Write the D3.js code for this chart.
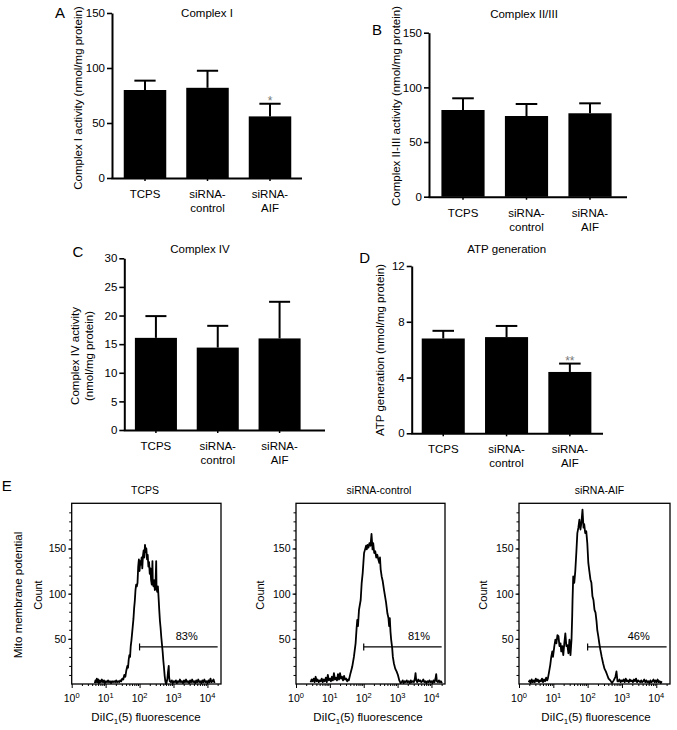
<!DOCTYPE html>
<html><head><meta charset="utf-8">
<script src="https://cdn.jsdelivr.net/npm/d3@7"></script>
<style>
body{margin:0;background:#fff}
text{font-family:"Liberation Sans",Arial,Helvetica,sans-serif;fill:#000}
</style>
</head><body>
<svg id="c" width="677" height="730"></svg>
<script>
// ---------- DATA ----------
const groups = ["TCPS", "siRNA-control", "siRNA-AIF"];
const groupLabels = [["TCPS"], ["siRNA-", "control"], ["siRNA-", "AIF"]];

const complexIMean = [80, 82, 56];
const complexIErr = [8.5, 15.5, 11.5];
const complexISig = ["", "", "*"];
const complexITicks = [0, 50, 100, 150];

const complexIIIIIMean = [79.3, 73.8, 76.3];
const complexIIIIIErr = [10.7, 11, 9.1];
const complexIIIIISig = ["", "", ""];
const complexIIIIITicks = [0, 50, 100, 150];

const complexIVMean = [16.1, 14.4, 16.0];
const complexIVErr = [3.8, 3.8, 6.4];
const complexIVSig = ["", "", ""];
const complexIVTicks = [0, 5, 10, 15, 20, 25, 30];

const atpMean = [6.8, 6.9, 4.4];
const atpErr = [0.55, 0.8, 0.6];
const atpSig = ["", "", "**"];
const atpTicks = [0, 4, 8, 12];

// flow cytometry histograms: [log10 fluorescence, count]
const histTCPS = [[0.68,1],[0.70,4],[0.72,2],[0.74,6],[0.76,2],[0.78,5],[0.80,1],[0.83,4],[0.86,2],[0.89,5],[0.92,2],[0.95,4],[0.98,1],[1.01,3],[1.04,2],[1.07,4],[1.10,2],[1.13,3],[1.16,1],[1.19,3],[1.22,2],[1.25,3],[1.28,2],[1.31,4],[1.34,2],[1.37,3],[1.40,2],[1.43,4],[1.46,3],[1.49,6],[1.52,5],[1.55,10],[1.58,8],[1.61,15],[1.64,20],[1.66,18],[1.68,27],[1.70,32],[1.72,30],[1.74,42],[1.76,48],[1.78,56],[1.80,64],[1.82,72],[1.84,84],[1.86,92],[1.88,104],[1.90,110],[1.92,108],[1.94,112],[1.96,130],[1.98,138],[2.00,125],[2.02,136],[2.04,132],[2.06,140],[2.08,128],[2.10,142],[2.12,148],[2.14,140],[2.16,154],[2.18,146],[2.20,150],[2.22,138],[2.24,143],[2.26,130],[2.28,135],[2.30,122],[2.32,128],[2.34,115],[2.36,110],[2.38,136],[2.39,112],[2.41,108],[2.43,115],[2.45,104],[2.47,110],[2.49,136],[2.50,106],[2.52,102],[2.54,108],[2.56,96],[2.58,82],[2.60,70],[2.62,62],[2.64,52],[2.66,44],[2.68,36],[2.70,26],[2.72,18],[2.74,9],[2.76,3],[2.78,0],[2.80,2],[2.82,6],[2.84,14],[2.86,20],[2.87,8],[2.89,3],[2.92,2],[2.95,4],[2.98,1],[3.01,3],[3.04,2],[3.07,4],[3.10,1],[3.13,3],[3.16,2],[3.19,5],[3.22,2],[3.25,3],[3.28,1],[3.31,4],[3.34,2],[3.37,5],[3.40,2],[3.43,3],[3.46,1],[3.49,4],[3.52,2],[3.55,5],[3.58,2],[3.61,3],[3.64,1],[3.67,4],[3.70,2],[3.73,5],[3.76,2],[3.79,3],[3.82,1],[3.85,4],[3.88,2],[3.91,5],[3.94,2],[3.97,3],[4.00,1],[4.03,4],[4.06,2],[4.09,6],[4.12,2],[4.15,3],[4.18,5],[4.21,1]];

const histControl = [[0.43,2],[0.46,5],[0.49,3],[0.52,6],[0.55,2],[0.58,8],[0.61,3],[0.64,5],[0.67,2],[0.70,4],[0.73,3],[0.76,6],[0.79,2],[0.82,5],[0.85,3],[0.88,7],[0.91,2],[0.94,10],[0.97,4],[1.00,6],[1.03,3],[1.06,8],[1.09,4],[1.12,12],[1.15,5],[1.18,7],[1.21,4],[1.24,11],[1.27,5],[1.30,12],[1.33,6],[1.36,8],[1.39,4],[1.42,9],[1.45,5],[1.48,6],[1.51,3],[1.54,5],[1.56,4],[1.61,12],[1.66,19],[1.71,30],[1.76,45],[1.79,62],[1.81,71],[1.83,64],[1.86,82],[1.91,93],[1.94,112],[1.97,123],[1.99,134],[2.01,145],[2.04,149],[2.07,153],[2.09,149],[2.11,154],[2.14,151],[2.17,156],[2.20,153],[2.23,166],[2.26,149],[2.28,156],[2.31,145],[2.34,147],[2.37,140],[2.40,143],[2.43,138],[2.46,134],[2.48,140],[2.50,127],[2.53,119],[2.56,114],[2.60,104],[2.63,97],[2.66,90],[2.70,78],[2.73,73],[2.75,64],[2.77,73],[2.79,58],[2.81,49],[2.84,40],[2.86,30],[2.89,23],[2.93,17],[2.97,14],[3.01,10],[3.05,4],[3.09,1],[3.12,2],[3.15,4],[3.18,1],[3.21,3],[3.24,2],[3.27,4],[3.30,2],[3.33,3],[3.36,1],[3.39,4],[3.42,2],[3.45,3],[3.48,2],[3.51,6],[3.53,12],[3.55,4],[3.58,2],[3.61,5],[3.64,3],[3.67,4],[3.70,2],[3.73,3],[3.76,5],[3.79,2],[3.82,3],[3.85,1],[3.88,3],[3.91,2],[3.94,4],[3.97,2],[4.00,3],[4.03,1],[4.06,4],[4.09,2],[4.12,6],[4.14,11],[4.16,3],[4.19,2],[4.22,4],[4.25,2],[4.28,3],[4.31,1]];

const histAIF = [[0.28,2],[0.31,4],[0.34,1],[0.37,5],[0.40,2],[0.43,4],[0.46,2],[0.49,6],[0.52,3],[0.55,5],[0.58,2],[0.61,4],[0.64,3],[0.67,6],[0.70,2],[0.73,5],[0.76,3],[0.79,7],[0.82,4],[0.84,6],[0.87,12],[0.91,21],[0.94,30],[0.97,36],[0.99,30],[1.03,42],[1.06,49],[1.09,45],[1.12,54],[1.15,53],[1.18,42],[1.21,45],[1.23,36],[1.26,42],[1.29,32],[1.32,45],[1.35,56],[1.38,42],[1.41,43],[1.44,34],[1.47,49],[1.50,32],[1.53,49],[1.55,75],[1.56,93],[1.58,119],[1.61,112],[1.64,125],[1.67,145],[1.70,167],[1.73,173],[1.76,182],[1.79,171],[1.82,179],[1.85,193],[1.88,173],[1.90,177],[1.93,167],[1.96,169],[1.99,156],[2.02,134],[2.05,125],[2.08,116],[2.11,112],[2.14,97],[2.17,93],[2.20,82],[2.23,79],[2.26,69],[2.28,60],[2.31,53],[2.34,45],[2.37,38],[2.41,30],[2.45,23],[2.49,17],[2.53,14],[2.57,10],[2.61,6],[2.66,4],[2.71,1],[2.76,4],[2.81,8],[2.84,14],[2.87,3],[2.90,3],[2.93,5],[2.96,2],[2.99,4],[3.02,3],[3.05,5],[3.08,2],[3.11,6],[3.14,3],[3.17,4],[3.20,2],[3.23,5],[3.26,3],[3.29,4],[3.32,2],[3.35,5],[3.38,3],[3.41,6],[3.44,2],[3.47,4],[3.50,3],[3.53,2],[3.56,4],[3.59,2],[3.62,3],[3.65,5],[3.68,2],[3.71,4],[3.74,2],[3.77,3],[3.80,1],[3.83,4],[3.86,2],[3.89,3],[3.92,5],[3.95,2],[3.98,4],[4.01,2],[4.04,5],[4.07,2],[4.10,3],[4.13,1],[4.16,3]];

const histTitles = ["TCPS", "siRNA-control", "siRNA-AIF"];
const gatePercents = ["83%", "81%", "46%"];
const gateRange = [100, 20000];
const gateCount = 41;
const histYTicks = [50, 100, 150];
const histXDecades = [0, 1, 2, 3, 4];

// ---------- LAYOUT ----------
const svg = d3.select("#c");

const barLayouts = [
  {x0:112, xEnd:302, y0:178, y1:13, band:[113.75,301.25], max:150, title:"Complex I", tx:207, ty:17,
   letter:"A", lx:60, ly:17.5, ylab:["Complex I activity (nmol/mg protein)"], ylx:[77.5], yly:98},
  {x0:429, xEnd:627, y0:196.7, y1:32.7, band:[431.25,621.75], max:150, title:"Complex II/III", tx:524, ty:17.5,
   letter:"B", lx:377, ly:34.5, ylab:["Complex II-III activity (nmol/mg protein)"], ylx:[395.5], yly:106},
  {x0:124.3, xEnd:325, y0:430, y1:258.3, band:[125,310.5], max:30, title:"Complex IV", tx:200, ty:252.5,
   letter:"C", lx:78, ly:257, ylab:["Complex IV activity","(nmol/mg protein)"], ylx:[75,89], yly:356},
  {x0:411.7, xEnd:603, y0:433.3, y1:266, band:[411.6,601.5], max:12, title:"ATP generation", tx:506.7, ty:252.5,
   letter:"D", lx:364.7, ly:262.5, ylab:["ATP generation (nmol/mg protein)"], ylx:[380], yly:350}
];

function barPanel(L, means, errs, sig, ticks) {
  const g = svg.append("g");
  const x = d3.scaleBand().domain(groups).range(L.band).paddingInner(0.32).paddingOuter(0.16);
  const y = d3.scaleLinear().domain([0, L.max]).range([L.y0, L.y1]);
  const data = groups.map((k, i) => ({k, m: means[i], e: errs[i], s: sig[i], lab: groupLabels[i]}));
  const bw = x.bandwidth();
  const cx = d => x(d.k) + bw / 2;

  g.selectAll("rect.bar").data(data).join("rect").attr("class","bar")
    .attr("x", d => x(d.k)).attr("width", bw)
    .attr("y", d => y(d.m)).attr("height", d => y(0) - y(d.m)).attr("fill", "#000");
  g.selectAll("line.err").data(data).join("line").attr("class","err")
    .attr("x1", cx).attr("x2", cx).attr("y1", d => y(d.m)).attr("y2", d => y(d.m + d.e))
    .attr("stroke", "#000").attr("stroke-width", 2);
  g.selectAll("line.cap").data(data).join("line").attr("class","cap")
    .attr("x1", d => cx(d) - bw / 4).attr("x2", d => cx(d) + bw / 4)
    .attr("y1", d => y(d.m + d.e)).attr("y2", d => y(d.m + d.e))
    .attr("stroke", "#000").attr("stroke-width", 2);
  g.selectAll("text.sig").data(data.filter(d => d.s)).join("text").attr("class","sig")
    .attr("x", cx).attr("y", d => y(d.m + d.e) + 1.5).attr("text-anchor", "middle")
    .style("font-size", "12px").style("fill", "#777").text(d => d.s);

  const ya = g.append("g").attr("transform", `translate(${L.x0},0)`)
    .call(d3.axisLeft(y).tickValues(ticks).tickSize(5).tickPadding(2).tickSizeOuter(0));
  ya.select(".domain").attr("stroke-width", 2);
  ya.selectAll(".tick line").attr("stroke-width", 1.6);
  ya.selectAll(".tick text").style("font-size", "11.5px");

  const xa = g.append("g").attr("transform", `translate(0,${L.y0})`)
    .call(d3.axisBottom(x).tickSize(3).tickFormat(""));
  xa.select(".domain").remove();
  xa.selectAll(".tick line").attr("stroke-width", 1.5);
  g.append("line").attr("x1", L.x0 - 0.5).attr("x2", L.xEnd).attr("y1", L.y0 + 0.5).attr("y2", L.y0 + 0.5)
    .attr("stroke", "#000").attr("stroke-width", 2);

  const cl = g.selectAll("text.cat").data(data).join("text").attr("class","cat")
    .attr("text-anchor", "middle").style("font-size", "11.5px");
  cl.each(function(d) {
    const t = d3.select(this);
    d.lab.forEach((s, j) => t.append("tspan").attr("x", cx(d)).attr("y", L.y0 + 20 + j * 14).text(s));
  });

  g.append("text").attr("x", L.tx).attr("y", L.ty).attr("text-anchor", "middle")
    .style("font-size", "11.5px").text(L.title);
  g.append("text").attr("x", L.lx).attr("y", L.ly).attr("text-anchor", "middle")
    .style("font-size", "15px").text(L.letter);
  L.ylab.forEach((s, j) => {
    g.append("text").attr("transform", `translate(${L.ylx[j]},${L.yly}) rotate(-90)`)
      .attr("dy", "0.35em").attr("text-anchor", "middle").style("font-size", "11.5px").text(s);
  });
}

barPanel(barLayouts[0], complexIMean, complexIErr, complexISig, complexITicks);
barPanel(barLayouts[1], complexIIIIIMean, complexIIIIIErr, complexIIIIISig, complexIIIIITicks);
barPanel(barLayouts[2], complexIVMean, complexIVErr, complexIVSig, complexIVTicks);
barPanel(barLayouts[3], atpMean, atpErr, atpSig, atpTicks);

// ---------- HISTOGRAMS ----------
const histLayouts = [
  {box:[71.7,221], top:503.3, bottom:684, tx:145, ylab:["Mito membrane potential","Count"], ylx:[18,38.3], px:186.7, xlx:146},
  {box:[296,445], top:503.3, bottom:684, tx:379, ylab:["Count"], ylx:[260], px:419, xlx:368},
  {box:[519,670], top:503.3, bottom:684, tx:599.5, ylab:["Count"], ylx:[483.3], px:638.7, xlx:596}
];
const histData = [histTCPS, histControl, histAIF];

svg.append("text").attr("x", 6.7).attr("y", 490.7).attr("text-anchor", "middle")
  .style("font-size", "15px").text("E");

histLayouts.forEach((L, i) => {
  const g = svg.append("g");
  const x = d3.scaleLog().domain([1, Math.pow(10, 4.4)]).range(L.box);
  const y = d3.scaleLinear().domain([0, 200]).range([L.bottom, L.top]);

  const minorY = d3.range(10, 200, 10);
  const ym = g.append("g").attr("transform", `translate(${L.box[0]},0)`)
    .call(d3.axisLeft(y).tickValues(minorY).tickSize(2.5).tickFormat(""));
  ym.select(".domain").remove();
  const yM = g.append("g").attr("transform", `translate(${L.box[0]},0)`)
    .call(d3.axisLeft(y).tickValues(histYTicks).tickSize(3.5).tickPadding(2));
  yM.select(".domain").remove();
  yM.selectAll(".tick text").style("font-size", "10.5px");

  const minorX = [];
  for (let dcd = 0; dcd < 5; dcd++) for (let m = 2; m <= 9; m++) {
    const v = m * Math.pow(10, dcd);
    if (v < Math.pow(10, 4.4)) minorX.push(v);
  }
  const xm = g.append("g").attr("transform", `translate(0,${L.bottom})`)
    .call(d3.axisBottom(x).tickValues(minorX).tickSize(2).tickFormat(""));
  xm.select(".domain").remove();
  const decadeVals = histXDecades.map(p => Math.pow(10, p));
  const xM = g.append("g").attr("transform", `translate(0,${L.bottom})`)
    .call(d3.axisBottom(x).tickValues(decadeVals).tickSize(4).tickFormat(""));
  xM.select(".domain").remove();
  const xl = g.selectAll("text.dec").data(histXDecades).join("text").attr("class","dec")
    .attr("x", p => x(Math.pow(10, p))).attr("y", L.bottom + 17.5).attr("text-anchor", "middle")
    .style("font-size", "10.5px");
  xl.append("tspan").text("10");
  xl.append("tspan").attr("dy", -4).style("font-size", "7.5px").text(p => p);

  g.append("rect").attr("x", L.box[0]).attr("y", L.top)
    .attr("width", L.box[1] - L.box[0]).attr("height", L.bottom - L.top)
    .attr("fill", "none").attr("stroke", "#000").attr("stroke-width", 1.3);

  const line = d3.line().x(d => x(Math.pow(10, d[0]))).y(d => y(d[1]));
  g.append("path").datum(histData[i]).attr("d", line)
    .attr("fill", "none").attr("stroke", "#000").attr("stroke-width", 1.8).attr("stroke-linejoin", "round");

  const gy = y(gateCount);
  g.append("line").attr("x1", x(gateRange[0])).attr("x2", x(gateRange[1])).attr("y1", gy).attr("y2", gy)
    .attr("stroke", "#000").attr("stroke-width", 1.2);
  g.append("line").attr("x1", x(gateRange[0])).attr("x2", x(gateRange[0])).attr("y1", gy - 3.5).attr("y2", gy + 3.5)
    .attr("stroke", "#000").attr("stroke-width", 1.2);
  g.append("text").attr("x", L.px).attr("y", 640).attr("text-anchor", "middle")
    .style("font-size", "11px").text(gatePercents[i]);

  g.append("text").attr("x", L.tx).attr("y", 494).attr("text-anchor", "middle")
    .style("font-size", "10.5px").text(histTitles[i]);
  const xt = g.append("text").attr("x", L.xlx).attr("y", 720.5).attr("text-anchor", "middle")
    .style("font-size", "11.5px");
  xt.append("tspan").text("DiIC");
  xt.append("tspan").attr("dy", 3).style("font-size", "8px").text("1");
  xt.append("tspan").attr("dy", -3).text("(5) fluorescence");
  L.ylab.forEach((s, j) => {
    g.append("text").attr("transform", `translate(${L.ylx[j]},595) rotate(-90)`)
      .attr("dy", "0.35em").attr("text-anchor", "middle").style("font-size", j === 0 && L.ylab.length > 1 ? "11.5px" : "11px").text(s);
  });
});
</script>
</body></html>
